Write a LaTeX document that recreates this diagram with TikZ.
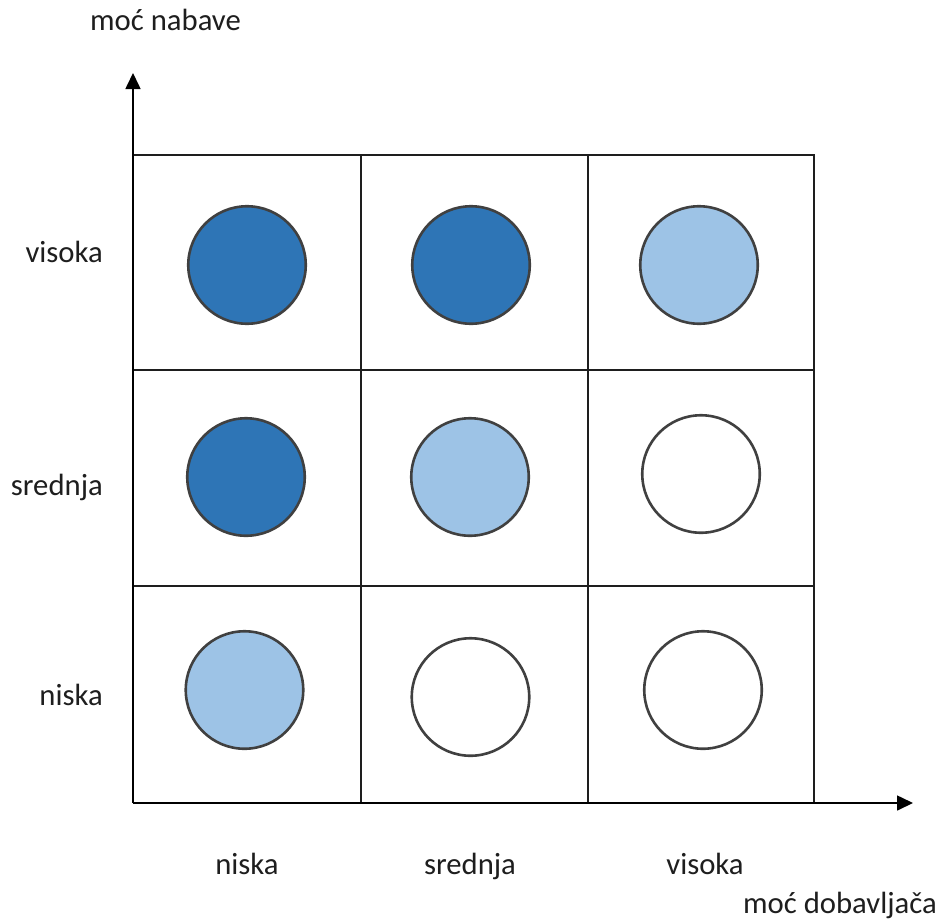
\documentclass[tikz,border=0pt]{standalone}
\usepackage{fontspec}
\setmainfont{Carlito}
\usetikzlibrary{arrows.meta}
\definecolor{darkblue}{HTML}{2E75B6}
\definecolor{lightblue}{HTML}{9DC3E6}
\definecolor{ring}{HTML}{404040}
\definecolor{ink}{HTML}{1E1E1E}
\begin{document}
\begin{tikzpicture}[x=1pt,y=-1pt,
  lbl/.style={inner sep=0pt,text=ink,font=\fontsize{30.7}{36}\selectfont},
  dot/.style={circle,draw=ring,line width=2.6pt,minimum size=117.5pt,inner sep=0pt},
  dk/.style={dot,fill=darkblue},
  lt/.style={dot,fill=lightblue},
  wh/.style={dot,fill=white},
  gridline/.style={draw=ink,line width=1.5pt},
  axis/.style={draw=black,line width=1.6pt,-{Triangle[width=15pt,length=16pt]}}]
\useasboundingbox (0,0) rectangle (944,921);
\fill[white] (0,0) rectangle (944,921);
% grid
\coordinate (o) at (133,803);
\coordinate (ytip) at (133,73);
\coordinate (xtip) at (913,803);
\draw[gridline] (133,155) -- (814,155) -- (814,803);
\draw[gridline] (361,155) -- (361,803);
\draw[gridline] (588,155) -- (588,803);
\draw[gridline] (133,370) -- (814,370);
\draw[gridline] (133,586) -- (814,586);
% axes
\draw[axis] (o) -- (ytip);
\draw[axis] (o) -- (xtip);
% circles
\node[dk] (c11) at (247,265) {};
\node[dk] (c12) at (471,265) {};
\node[lt] (c13) at (699,265) {};
\node[dk] (c21) at (246,477) {};
\node[lt] (c22) at (470,477) {};
\node[wh] (c23) at (701,474) {};
\node[lt] (c31) at (244.5,690) {};
\node[wh] (c32) at (470.5,697) {};
\node[wh] (c33) at (703,690) {};
% labels
\node[lbl,anchor=base] (ytitle) at (165.5,30) {moć nabave};
\node[lbl,anchor=base east] (lv) at (103,262) {visoka};
\node[lbl,anchor=base east] (ls) at (103,495) {srednja};
\node[lbl,anchor=base east] (ln) at (103,705) {niska};
\node[lbl,anchor=base] (bn) at (247,874) {niska};
\node[lbl,anchor=base] (bs) at (470,874) {srednja};
\node[lbl,anchor=base] (bv) at (705,874) {visoka};
\node[lbl,anchor=base] (xtitle) at (840,913) {moć dobavljača};
\end{tikzpicture}
\end{document}
